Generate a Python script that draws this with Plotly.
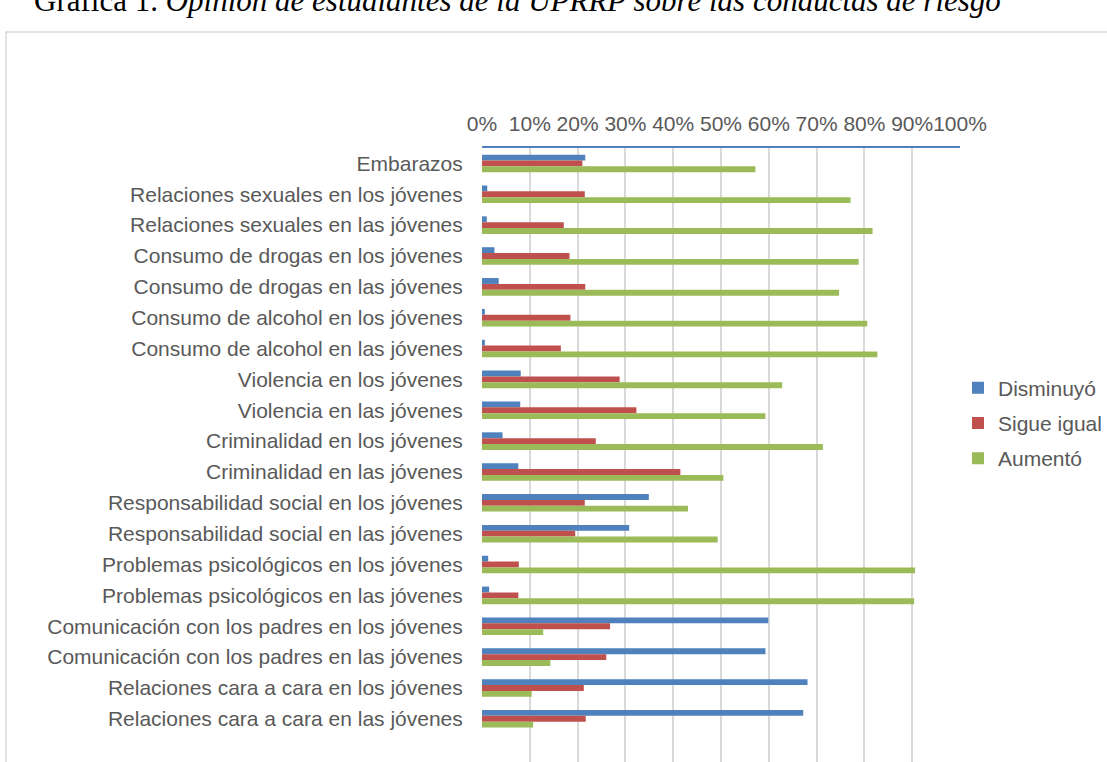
import plotly.graph_objects as go

categories = [
    "Embarazos",
    "Relaciones sexuales en los jóvenes",
    "Relaciones sexuales en las jóvenes",
    "Consumo de drogas en los jóvenes",
    "Consumo de drogas en las jóvenes",
    "Consumo de alcohol en los jóvenes",
    "Consumo de alcohol en las jóvenes",
    "Violencia en los jóvenes",
    "Violencia en las jóvenes",
    "Criminalidad en los jóvenes",
    "Criminalidad en las jóvenes",
    "Responsabilidad social en los jóvenes",
    "Responsabilidad social en las jóvenes",
    "Problemas psicológicos en los jóvenes",
    "Problemas psicológicos en las jóvenes",
    "Comunicación con los padres en los jóvenes",
    "Comunicación con los padres en las jóvenes",
    "Relaciones cara a cara en los jóvenes",
    "Relaciones cara a cara en las jóvenes",
]

disminuyo = [21.6, 1.1, 1.0, 2.6, 3.5, 0.6, 0.6, 8.1, 8.0, 4.3, 7.6, 34.9, 30.8, 1.3, 1.5, 59.9, 59.3, 68.1, 67.2]
sigue_igual = [21.0, 21.5, 17.1, 18.3, 21.6, 18.5, 16.5, 28.8, 32.3, 23.8, 41.5, 21.5, 19.5, 7.7, 7.6, 26.8, 26.0, 21.3, 21.7]
aumento = [57.2, 77.1, 81.7, 78.8, 74.7, 80.6, 82.7, 62.8, 59.3, 71.3, 50.5, 43.1, 49.3, 90.6, 90.4, 12.8, 14.3, 10.4, 10.7]

series_names = ["Disminuyó", "Sigue igual", "Aumentó"]
series_values = [disminuyo, sigue_igual, aumento]
series_colors = ["#4F81BD", "#C0504D", "#9BBB59"]

x_ticks = list(range(0, 101, 10))
x_ticklabels = [f"{v}%" for v in x_ticks]

title_plain = "Gráfica 1. "
title_italic = "Opinión de estudiantes de la UPRRP sobre las conductas de riesgo"

fig = go.Figure()
for name, vals, col in zip(series_names, series_values, series_colors):
    fig.add_trace(go.Bar(
        y=categories, x=vals, name=name, orientation="h",
        marker=dict(color=col, line=dict(width=0)),
        legendgroup=name,
    ))

W, H = 1107, 762
L, R, T, B = 482, 145, 148, 0
plot_w = W - L - R
plot_h = H - T - B

def px_x(p):
    return (p - L) / plot_w

def px_y(p):
    return (H - B - p) / plot_h

fig.update_layout(
    width=W, height=H,
    margin=dict(l=L, r=R, t=T, b=B, pad=0),
    paper_bgcolor="white", plot_bgcolor="white",
    barmode="group", bargap=0.43, bargroupgap=0,
    font=dict(family="Liberation Sans, Arial, sans-serif", size=21, color="#595959"),
    showlegend=True,
    legend=dict(
        x=px_x(960), xanchor="left",
        y=px_y(423), yanchor="middle",
        font=dict(size=21, color="#595959"),
        bgcolor="rgba(0,0,0,0)",
        traceorder="grouped", tracegroupgap=5,
        itemclick=False,
    ),
    xaxis=dict(
        side="top", range=[0, 100],
        tickmode="array", tickvals=x_ticks, ticktext=x_ticklabels,
        tickangle=0,
        showgrid=True, gridcolor="#D9D9D9", gridwidth=1.5,
        showline=True, linecolor="#4F81BD", linewidth=2,
        ticks="outside", ticklen=7, tickcolor="rgba(0,0,0,0)",
        zeroline=False, fixedrange=True,
    ),
    yaxis=dict(
        type="category", categoryorder="array", categoryarray=categories,
        range=[19.4, -0.5],
        showgrid=False, showline=False, zeroline=False,
        ticks="outside", ticklen=14, tickcolor="rgba(0,0,0,0)",
        fixedrange=True,
    ),
    shapes=[dict(
        type="rect", xref="paper", yref="paper",
        x0=px_x(4), x1=px_x(1200), y0=px_y(800), y1=px_y(32),
        line=dict(color="#D9D9D9", width=1.5), fillcolor="rgba(0,0,0,0)",
        layer="below",
    )],
    annotations=[dict(
        text=title_plain + "<i>" + title_italic + "</i>",
        xref="paper", yref="paper",
        x=px_x(518), y=px_y(1), xanchor="center", yanchor="middle",
        showarrow=False,
        font=dict(family="Liberation Serif, Times New Roman, serif", size=31, color="black"),
    )],
)

fig.write_html(
    "out.html",
    config={"displayModeBar": False},
    post_script="document.body.style.margin='0';",
)
